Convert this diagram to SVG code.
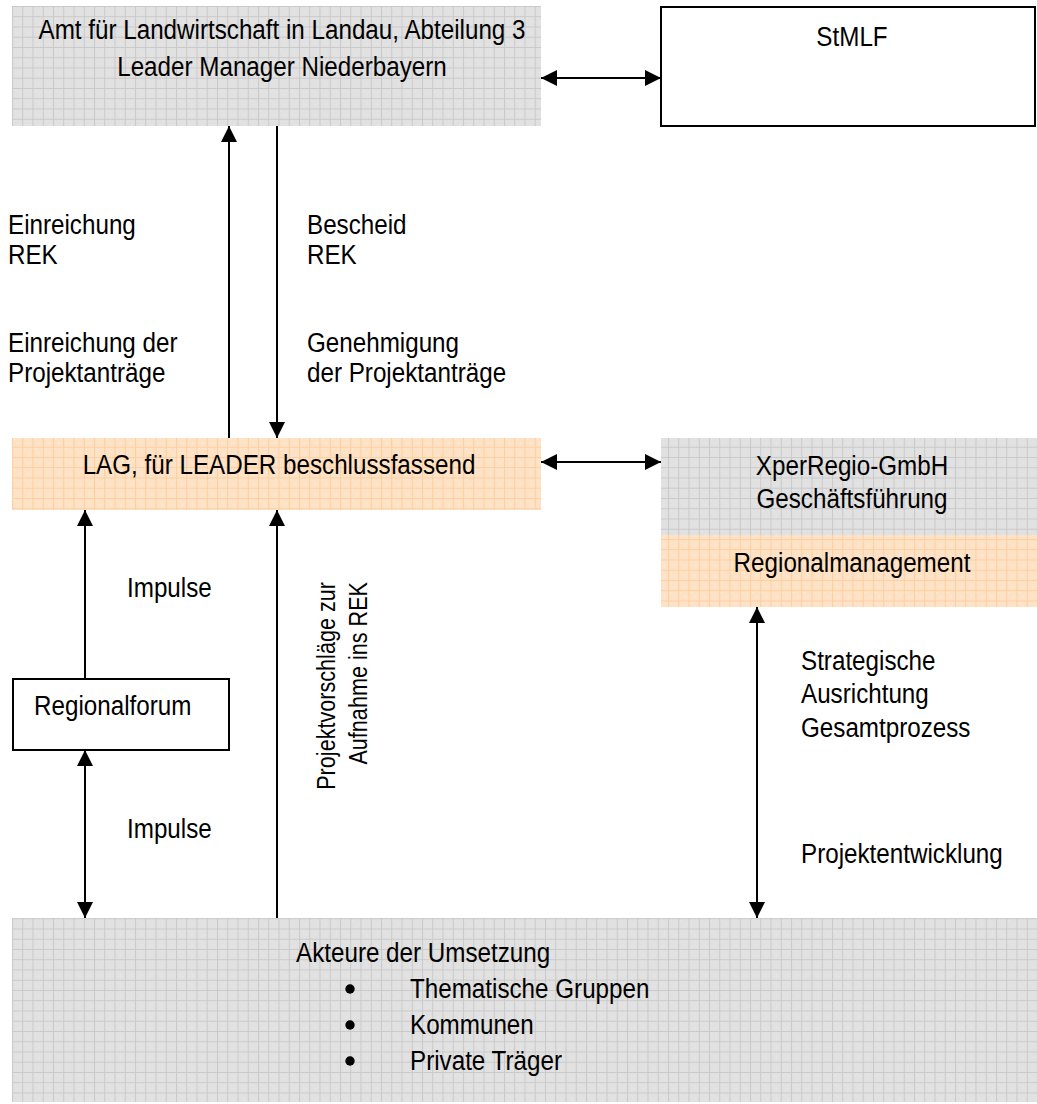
<svg xmlns="http://www.w3.org/2000/svg" width="1037" height="1104" viewBox="0 0 1037 1104">
<style>
.t{font-family:"Liberation Sans",Arial,sans-serif;font-size:28px;fill:#000}
.m{text-anchor:middle}
.e{text-anchor:end}
.r{font-size:25px}
.ln{stroke:#000;stroke-width:2;fill:none}
.box{fill:#fff;stroke:#000;stroke-width:2}
</style>
<defs>
<pattern id="gg" patternUnits="userSpaceOnUse" x="12" y="6" width="10.25" height="10.25">
<rect width="10.25" height="10.25" fill="#e1e1e1"/>
<rect x="2" y="2" width="1" height="1" fill="#ebebeb"/>
<rect x="6" y="6" width="1" height="1" fill="#ebebeb"/>
<path d="M0 0.5H10.25M0.5 0V10.25" stroke="#c9c9c9" stroke-width="1"/>
</pattern>
<pattern id="og" patternUnits="userSpaceOnUse" x="12" y="6" width="10.25" height="10.25">
<rect width="10.25" height="10.25" fill="#fee2c6"/>
<rect x="2" y="2" width="1" height="1" fill="#fff0e0"/>
<rect x="6" y="6" width="1" height="1" fill="#fff0e0"/>
<path d="M0 0.5H10.25M0.5 0V10.25" stroke="#fccf9f" stroke-width="1"/>
</pattern>
<marker id="ah" markerUnits="userSpaceOnUse" markerWidth="16" markerHeight="16" refX="16" refY="8" orient="auto-start-reverse">
<path d="M0 0L16 8L0 16z" fill="#000"/>
</marker>
</defs>

<g id="amt">
<rect x="12" y="6" width="529" height="120" fill="url(#gg)"/>
<text class="t m" transform="translate(282,39) scale(0.865,1)">Amt für Landwirtschaft in Landau, Abteilung 3</text>
<text class="t m" transform="translate(282,76) scale(0.865,1)">Leader Manager Niederbayern</text>
</g>

<g id="stmlf">
<rect class="box" x="661" y="7" width="374" height="119"/>
<text class="t m" transform="translate(852,46) scale(0.865,1)">StMLF</text>
</g>

<g id="lag">
<rect x="12" y="438" width="529" height="72" fill="url(#og)"/>
<text class="t m" transform="translate(279,474) scale(0.865,1)">LAG, für LEADER beschlussfassend</text>
</g>

<g id="xperregio">
<rect x="661" y="438" width="376" height="97" fill="url(#gg)"/>
<text class="t m" transform="translate(852,475) scale(0.865,1)">XperRegio-GmbH</text>
<text class="t m" transform="translate(852,508) scale(0.865,1)">Geschäftsführung</text>
</g>

<g id="regionalmanagement">
<rect x="661" y="535" width="376" height="72" fill="url(#og)"/>
<text class="t m" transform="translate(852,572) scale(0.865,1)">Regionalmanagement</text>
</g>

<g id="regionalforum">
<rect class="box" x="13" y="679" width="216" height="71"/>
<text class="t" transform="translate(34,715) scale(0.865,1)">Regionalforum</text>
</g>

<g id="akteure">
<rect x="12" y="918" width="1025" height="184" fill="url(#gg)"/>
<text class="t" transform="translate(296,962) scale(0.865,1)">Akteure der Umsetzung</text>
<circle cx="350" cy="989" r="4.7" fill="#000"/>
<circle cx="350" cy="1025" r="4.7" fill="#000"/>
<circle cx="350" cy="1061" r="4.7" fill="#000"/>
<text class="t" transform="translate(410,998) scale(0.865,1)">Thematische Gruppen</text>
<text class="t" transform="translate(410,1034) scale(0.865,1)">Kommunen</text>
<text class="t" transform="translate(410,1070) scale(0.865,1)">Private Träger</text>
</g>

<g id="connectors">
<line class="ln" x1="541" y1="78" x2="661" y2="78" marker-start="url(#ah)" marker-end="url(#ah)"/>
<line class="ln" x1="229" y1="438" x2="229" y2="126" marker-end="url(#ah)"/>
<line class="ln" x1="277" y1="126" x2="277" y2="438" marker-end="url(#ah)"/>
<line class="ln" x1="541" y1="462" x2="661" y2="462" marker-start="url(#ah)" marker-end="url(#ah)"/>
<line class="ln" x1="85" y1="678" x2="85" y2="510" marker-end="url(#ah)"/>
<line class="ln" x1="85" y1="750" x2="85" y2="918" marker-start="url(#ah)" marker-end="url(#ah)"/>
<line class="ln" x1="277" y1="918" x2="277" y2="510" marker-end="url(#ah)"/>
<line class="ln" x1="757" y1="607" x2="757" y2="918" marker-start="url(#ah)" marker-end="url(#ah)"/>
</g>

<g id="labels">
<text class="t" transform="translate(8,234) scale(0.865,1)">Einreichung</text>
<text class="t" transform="translate(8,264) scale(0.865,1)">REK</text>
<text class="t" transform="translate(8,352) scale(0.865,1)">Einreichung der</text>
<text class="t" transform="translate(8,382) scale(0.865,1)">Projektanträge</text>
<text class="t" transform="translate(307,234) scale(0.865,1)">Bescheid</text>
<text class="t" transform="translate(307,264) scale(0.865,1)">REK</text>
<text class="t" transform="translate(307,352) scale(0.865,1)">Genehmigung</text>
<text class="t" transform="translate(307,382) scale(0.865,1)">der Projektanträge</text>
<text class="t" transform="translate(127,597) scale(0.865,1)">Impulse</text>
<text class="t" transform="translate(127,838) scale(0.865,1)">Impulse</text>
<text class="t r e" transform="translate(335,582) rotate(-90) scale(0.865,1)">Projektvorschläge zur</text>
<text class="t r e" transform="translate(367,582) rotate(-90) scale(0.865,1)">Aufnahme ins REK</text>
<text class="t" transform="translate(801,670) scale(0.865,1)">Strategische</text>
<text class="t" transform="translate(801,703) scale(0.865,1)">Ausrichtung</text>
<text class="t" transform="translate(801,737) scale(0.865,1)">Gesamtprozess</text>
<text class="t" transform="translate(801,863) scale(0.865,1)">Projektentwicklung</text>
</g>
</svg>
